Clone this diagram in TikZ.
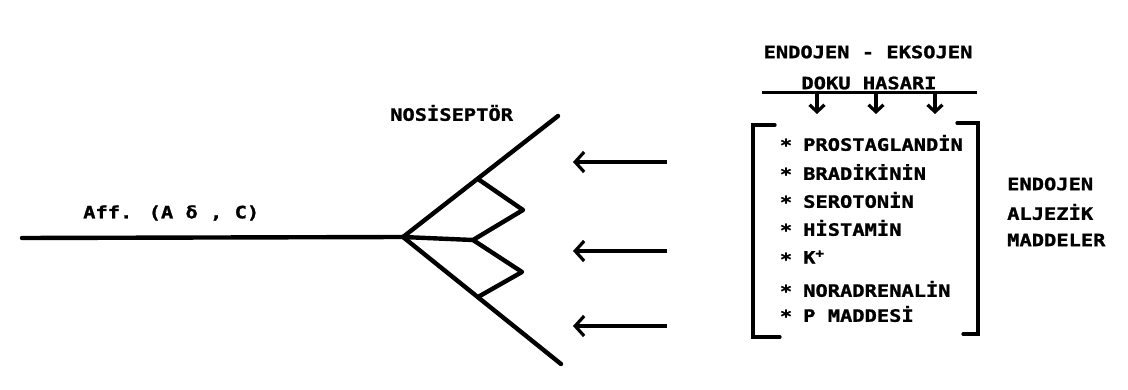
\documentclass[tikz,border=0pt]{standalone}
\usepackage{fontspec}
\newfontfamily\twfont{DejaVu Sans Mono Bold}[FakeStretch=1.2,FakeBold=1.2]
\usetikzlibrary{arrows.meta}
\begin{document}
\begin{tikzpicture}[x=1pt,y=-1pt,
  lbl/.style={font=\twfont\fontsize{17}{19}\selectfont, inner sep=0pt},
  nerve/.style={line width=4.4pt, line cap=round, line join=round},
  stim/.style={line width=3.2pt, -{Straight Barb[length=9pt,width=20pt,line width=3.2pt]}},
  downarr/.style={line width=3.2pt, -{Straight Barb[length=7pt,width=15pt,line width=3.2pt]}},
  brk/.style={line width=3.2pt, line cap=round, line join=miter}]
\useasboundingbox (0,0) rectangle (1128,390);
\fill[white] (0,0) rectangle (1128,390);

% nerve fibre
\coordinate (ax) at (22,238);
\coordinate (J) at (403,237);
\coordinate (ub) at (558,116);
\coordinate (lb) at (561,364);
\coordinate (u1) at (478,179);
\coordinate (up) at (523,210);
\coordinate (m) at (473,240);
\coordinate (lp) at (522,272);
\coordinate (l1) at (478,297);
\draw[nerve] (ax) -- (J);
\draw[nerve] (J) -- (ub);
\draw[nerve] (J) -- (lb);
\draw[nerve] (J) -- (m);
\draw[nerve] (u1) -- (up) -- (m) -- (lp) -- (l1);

\node[lbl, anchor=west] (aff) at (83,213) {Aff. (A δ , C)};
\node[lbl, anchor=west] (nos) at (390,113) {NOSİSEPTÖR};

% stimulus arrows
\coordinate (a1s) at (667,162); \coordinate (a1e) at (573,162);
\coordinate (a2s) at (667,251); \coordinate (a2e) at (573,251);
\coordinate (a3s) at (667,326); \coordinate (a3e) at (573,326);
\draw[stim] (a1s) -- (a1e);
\draw[stim] (a2s) -- (a2e);
\draw[stim] (a3s) -- (a3e);

% top heading
\node[lbl] (t1) at (868,52) {ENDOJEN - EKSOJEN};
\node[lbl] (t2) at (869,83) {DOKU HASARI};
\coordinate (hl) at (762,93); \coordinate (hr) at (977,93);
\draw[line width=3pt] (hl) -- (hr);
\coordinate (d1) at (817,93); \coordinate (d1e) at (817,114);
\coordinate (d2) at (876,93); \coordinate (d2e) at (876,114);
\coordinate (d3) at (935,93); \coordinate (d3e) at (935,114);
\draw[downarr] (d1) -- (d1e);
\draw[downarr] (d2) -- (d2e);
\draw[downarr] (d3) -- (d3e);

% brackets
\coordinate (bl1) at (775,125); \coordinate (bl2) at (753,125);
\coordinate (bl3) at (753,337); \coordinate (bl4) at (780,337);
\draw[brk] (bl1) -- (bl2) -- (bl3) -- (bl4);
\coordinate (br1) at (957,123); \coordinate (br2) at (978,123);
\coordinate (br3) at (978,334); \coordinate (br4) at (963,334);
\draw[brk] (br1) -- (br2) -- (br3) -- (br4);

% list
\foreach \y/\t/\n in {143/PROSTAGLANDİN/i1, 172/BRADİKİNİN/i2, 200/SEROTONİN/i3, 228/HİSTAMİN/i4, 257/K\textsuperscript{+}/i5, 289/NORADRENALİN/i6, 314/P MADDESİ/i7}{
  \node[lbl] (s\n) at (786,\y+2) {*};
  \node[lbl, anchor=west] (\n) at (803,\y) {\t};
}

% side label
\node[lbl, anchor=west] (e1) at (1007,184) {ENDOJEN};
\node[lbl, anchor=west] (e2) at (1007,212) {ALJEZİK};
\node[lbl, anchor=west] (e3) at (1007,240) {MADDELER};
\end{tikzpicture}
\end{document}
